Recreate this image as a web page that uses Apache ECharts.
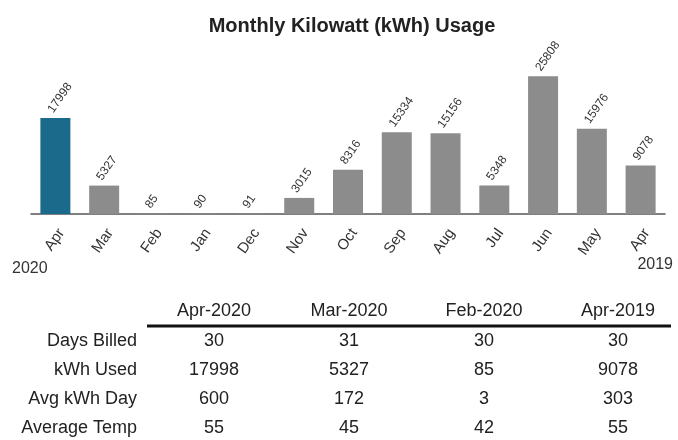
<!DOCTYPE html>
<html>
<head>
<meta charset="utf-8">
<script src="https://cdn.jsdelivr.net/npm/echarts@6/dist/echarts.min.js"></script>
<style>
  html, body { margin: 0; padding: 0; background: #fff; }
  #main { width: 678px; height: 440px; }
</style>
</head>
<body>
<div id="main"></div>
<script>
// monthly usage, newest first (Apr 2020 -> Apr 2019)
var months = ['Apr', 'Mar', 'Feb', 'Jan', 'Dec', 'Nov', 'Oct', 'Sep', 'Aug', 'Jul', 'Jun', 'May', 'Apr'];
var kwh = [17998, 5327, 85, 90, 91, 3015, 8316, 15334, 15156, 5348, 25808, 15976, 9078];
var yearStart = '2020';
var yearEnd = '2019';

// summary table
var tableCols = ['Apr-2020', 'Mar-2020', 'Feb-2020', 'Apr-2019'];
var tableRows = ['Days Billed', 'kWh Used', 'Avg kWh Day', 'Average Temp'];
var daysBilled = [30, 31, 30, 30];
var kwhUsed = [17998, 5327, 85, 9078];
var avgKwhDay = [600, 172, 3, 303];
var avgTemp = [55, 45, 42, 55];

var font = '"Liberation Sans", Arial, sans-serif';
var chartDom = document.getElementById('main');
var myChart = echarts.init(chartDom);

// 当前月份用蓝色, 其余灰色
var barData = kwh.map(function (v, i) {
    return {
        value: v,
        itemStyle: { color: i === 0 ? '#1b6a8c' : '#8c8c8c' }
    };
});

// table as graphic texts
var colX = [214, 349, 484, 618];
var rowY = [341, 370, 399, 428];
var tableValues = [daysBilled, kwhUsed, avgKwhDay, avgTemp];
var graphics = [];

tableCols.forEach(function (c, j) {
    graphics.push({
        type: 'text',
        style: { text: c, x: colX[j], y: 311, align: 'center', verticalAlign: 'middle', font: '18px ' + font, fill: '#222' }
    });
});
graphics.push({
    type: 'line',
    shape: { x1: 147, y1: 326, x2: 671, y2: 326 },
    style: { stroke: '#111', lineWidth: 3 }
});
tableRows.forEach(function (r, i) {
    graphics.push({
        type: 'text',
        style: { text: r, x: 137, y: rowY[i], align: 'right', verticalAlign: 'middle', font: '18px ' + font, fill: '#222' }
    });
    tableValues[i].forEach(function (v, j) {
        graphics.push({
            type: 'text',
            style: { text: String(v), x: colX[j], y: rowY[i], align: 'center', verticalAlign: 'middle', font: '18px ' + font, fill: '#222' }
        });
    });
});
graphics.push({
    type: 'text',
    style: { text: yearStart, x: 12, y: 269, align: 'left', verticalAlign: 'middle', font: '16px ' + font, fill: '#333' }
});
graphics.push({
    type: 'text',
    style: { text: yearEnd, x: 673, y: 265, align: 'right', verticalAlign: 'middle', font: '16px ' + font, fill: '#333' }
});

var option = {
    animation: false,
    title: {
        text: 'Monthly Kilowatt (kWh) Usage',
        left: 347,
        top: 11,
        textAlign: 'center',
        textStyle: { fontFamily: font, fontWeight: 'bold', fontSize: 20, color: '#222' }
    },
    grid: { left: 31, right: 13, top: 54, bottom: 226 },
    xAxis: {
        type: 'category',
        data: months,
        axisLine: { lineStyle: { color: '#555', width: 1.5 } },
        axisTick: { alignWithLabel: true, length: 5, lineStyle: { color: '#555' } },
        axisLabel: {
            rotate: 55,
            margin: 12,
            align: 'right',
            verticalAlign: 'top',
            interval: 0,
            fontFamily: font,
            fontSize: 15,
            color: '#333'
        }
    },
    yAxis: {
        type: 'value',
        min: 0,
        max: 30000,
        show: false
    },
    series: [
        {
            type: 'bar',
            data: barData,
            barWidth: 30,
            label: {
                show: true,
                position: 'top',
                distance: 3,
                rotate: 55,
                align: 'left',
                verticalAlign: 'bottom',
                fontFamily: font,
                fontSize: 12,
                color: '#333'
            }
        }
    ],
    graphic: graphics
};

option && myChart.setOption(option);
</script>
</body>
</html>
